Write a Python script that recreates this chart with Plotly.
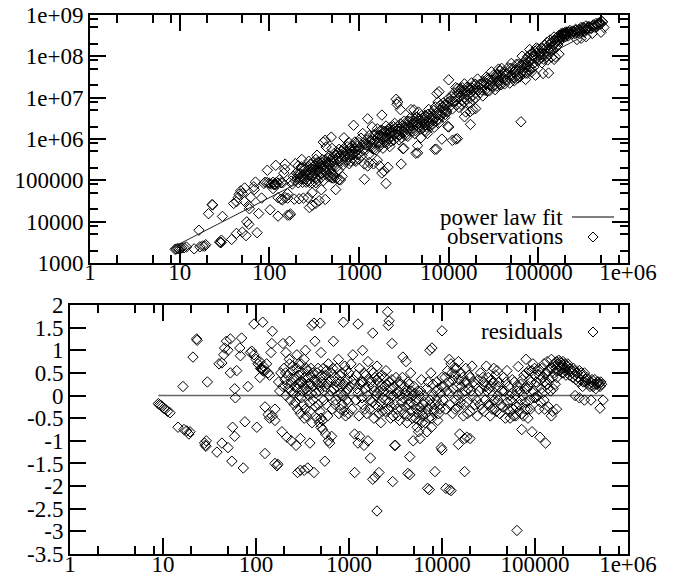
import plotly.graph_objects as go

# ---------------- data ----------------
# x position of each observation (shared by both panels)
x_vals = [
    8.9, 9.2, 9.5, 9.8, 10.2, 10.6, 11.2, 11.9,
    14.5, 16.4, 16.8, 18, 19, 19.5, 21, 23, 23.3, 28, 28.5, 29, 29.2, 30, 38, 40, 43, 43, 45, 46, 48, 50, 50,
    53, 53, 55, 56, 59, 59, 60, 62, 67, 68, 70, 73, 76, 82, 87, 90, 95, 95, 100, 102,
    105, 110, 110, 112, 115, 115, 118, 118, 120, 125, 125, 125, 130, 135, 135, 140, 140, 145, 148, 150,
    150, 160, 160, 160, 168, 172, 175, 180, 185, 190, 195, 195,
    200, 205, 210, 210, 215, 220, 225, 230, 230, 235, 240, 240, 245, 250, 255, 260, 265, 270, 275, 275,
    280, 280, 285, 290, 295, 300, 300, 300, 305, 310, 315, 320, 330, 330, 330, 335, 340, 345, 350, 355,
    360, 365, 370, 380, 380, 385, 390, 400, 400, 405, 410, 420, 420, 425, 430, 440, 450, 455, 460, 470,
    480, 490, 490, 500, 500, 500,
    510, 520, 520, 530, 540, 550, 560, 560, 570, 580, 600, 600, 610, 620, 630, 650, 650, 660, 680, 690,
    700, 720, 740, 750, 770, 780, 800, 820, 840, 850, 870, 880, 900, 920, 940, 960, 980, 1000,
    1050, 1100, 1150, 1150, 1150, 1200, 1250, 1250, 1250, 1300, 1300, 1350, 1400, 1400, 1450, 1450, 1500, 1550, 1600, 1600,
    1650, 1700, 1700, 1750, 1800, 1800, 1800, 1850, 1900, 1900, 1950, 2000, 2000, 2050, 2100, 2100, 2150, 2200, 2250, 2300,
    2400, 2450, 2500, 2600, 2650, 2700, 2700, 2750, 2800, 2900, 2900, 2950, 3000,
    3100, 3150, 3200, 3300, 3400, 3500, 3600, 3700, 3800, 3900, 4000, 4100, 4200, 4300, 4300, 4400, 4500, 4500, 4600, 4700,
    4900, 4900, 5000, 5200, 5300, 5400, 5500, 5600, 5700, 5800, 5800, 6000, 6100, 6200, 6400, 6500, 6600, 6800, 6900, 7000,
    7000, 7100, 7300, 7400, 7400, 7600, 7700, 7800, 7800, 8000, 8200, 8400, 8400, 8600, 8800, 9000, 9200, 9400, 9600, 9800,
    10000, 10000, 10000,
    10500, 11000, 11000, 11500, 12000, 12000, 12000, 12500, 12500, 13000, 13000, 13500, 14000, 14000, 14500, 15000, 15000, 15000, 15500, 16000,
    16500, 17000, 17500, 17500, 17500, 18000, 18500, 18500, 19000, 20000, 20000, 20000, 21000, 21500, 22500, 23000, 24000, 25000, 26000, 27000,
    28000, 29000,
    30000, 31000, 32000, 33000, 34000, 35000, 36000, 37000, 38000, 39000, 40000, 41000, 42000, 44000, 45000, 46000, 48000, 50000, 50000, 52000,
    54000, 54000, 56000, 58000, 60000, 62000, 64000, 64000, 66000, 68000, 70000, 72000, 72000, 74000, 76000, 78000, 80000, 82000, 84000, 86000,
    88000, 90000, 93000, 95000, 98000,
    100000, 102000, 105000, 108000, 110000, 113000, 115000, 115000, 118000, 120000, 125000, 125000, 128000, 130000, 132000, 135000, 138000, 140000, 145000, 150000,
    150000, 155000, 155000, 160000, 165000, 170000, 170000, 175000, 180000, 185000, 190000, 195000, 200000, 205000, 210000, 215000, 220000, 230000, 240000, 250000,
    260000, 270000, 270000, 280000, 290000, 300000, 300000, 310000, 320000, 330000, 340000, 340000, 350000, 360000, 380000, 400000, 400000, 420000, 440000, 460000,
    480000, 500000, 500000, 520000, 540000,
]

# observed values (upper panel)
obs_vals = [
    2140, 2180, 2210, 2220, 2260, 2310, 2340, 2430,
    2200, 6210, 2460, 2580, 2560, 2770, 15600, 25900, 25400, 3220, 3130, 3130, 3560, 13400, 3720, 27600, 5200, 30500, 38500, 45800, 55700, 5570, 47800,
    30900, 65500, 4590, 9910, 8610, 24600, 20500, 38700, 69700, 59800, 91000, 5410, 15700, 37300, 84300, 90200, 175000, 88500, 84700, 19400,
    80900, 89700, 63200, 78900, 81300, 79600, 231000, 79400, 89300, 84700, 38000, 13600, 103000, 87700, 35000, 86900, 33700, 149000, 186000, 247000,
    38200, 37100, 47600, 14400, 14400, 15300, 95900, 80900, 125000, 35100, 253000, 97900,
    1.51e5, 1.20e5, 2.25e5, 8.71e4, 3.57e4, 1.44e5, 1.09e5, 3.21e5, 1.95e5, 8.95e4, 3.72e4, 1.36e5, 1.79e5, 1.11e5, 1.61e5, 1.35e5, 9.73e4, 3.84e4, 2.90e5, 2.15e5,
    2.19e4, 8.89e4, 1.57e5, 1.95e5, 1.27e5, 5.02e4, 2.49e4, 8.69e4, 2.66e5, 1.82e5, 1.51e5, 1.14e5, 3.21e5, 8.75e4, 2.77e4, 2.19e5, 4.05e5, 1.76e5, 9.84e4, 2.72e5,
    3.21e4, 2.07e5, 1.64e5, 5.92e4, 1.19e5, 2.69e5, 3.17e5, 8.41e5, 9.79e4, 2.21e5, 1.66e5, 9.35e5, 3.45e4, 2.72e5, 6.43e5, 2.09e5, 1.24e5, 3.40e5, 2.69e5, 1.75e5,
    1.20e5, 1.11e6, 3.34e5, 5.92e5, 1.14e5, 1.39e5,
    3.16e5, 1.13e5, 1.38e5, 4.46e5, 2.75e5, 5.98e4, 1.11e5, 4.07e5, 2.17e5, 3.48e5, 1.03e5, 5.65e5, 2.86e5, 1.02e5, 4.21e5, 1.25e5, 5.06e5, 2.32e5, 1.07e6, 3.81e5,
    4.98e5, 3.12e5, 6.47e5, 4.41e5, 8.24e5, 2.52e5, 5.22e5, 4.19e5, 6.73e5, 3.39e5, 2.15e6, 5.53e5, 8.45e5, 2.89e5, 5.12e5, 6.73e5, 4.18e5, 8.18e5,
    1.05e6, 1.36e6, 2.48e5, 1.06e5, 7.46e5, 9.53e5, 3.09e6, 2.23e5, 6.70e5, 2.70e5, 1.21e6, 9.35e5, 1.96e6, 5.92e5, 2.50e5, 1.24e6, 9.06e5, 5.42e5, 3.08e5, 1.77e6,
    1.23e6, 2.25e5, 8.11e5, 1.61e6, 3.79e6, 1.50e5, 1.17e6, 5.98e5, 1.68e5, 1.52e6, 1.04e6, 8.41e4, 2.06e6, 8.61e5, 2.07e5, 1.53e6, 1.29e6, 6.55e5, 1.92e6, 1.20e6,
    1.61e6, 9.51e5, 2.39e6, 9.16e6, 6.93e6, 7.82e6, 1.29e6, 1.78e6, 9.48e5, 5.13e6, 2.31e6, 2.48e5, 1.69e6,
    5.83e5, 5.94e5, 2.71e6, 1.39e6, 2.14e6, 1.16e6, 2.66e6, 1.84e6, 5.15e6, 1.52e6, 2.45e6, 5.07e6, 1.35e6, 4.52e5, 3.40e6, 2.12e6, 6.89e5, 4.61e5, 4.49e6, 1.96e6,
    1.07e6, 2.92e6, 3.65e6, 1.89e6, 2.36e6, 1.61e6, 3.66e6, 1.52e6, 3.46e6, 1.36e6, 2.74e6, 5.19e6, 2.04e6, 2.42e6, 3.94e6, 3.44e6, 2.23e6, 4.90e6, 1.92e6, 5.60e5,
    3.22e6, 5.96e6, 5.69e5, 1.26e7, 4.19e6, 7.85e6, 2.40e6, 1.40e7, 2.98e6, 6.49e6, 3.66e6, 9.93e5, 4.36e6, 6.03e6, 7.57e6, 3.32e6, 3.95e6, 4.94e6, 6.50e6, 2.00e6,
    2.70e7, 1.95e6, 9.66e6,
    8.34e6, 9.27e5, 5.33e6, 1.31e7, 9.91e5, 1.76e7, 8.34e6, 1.02e6, 1.67e7, 5.81e6, 1.23e7, 1.65e7, 8.53e6, 1.48e7, 1.20e7, 3.45e6, 2.15e7, 7.91e6, 4.51e6, 1.80e7,
    1.19e7, 7.45e6, 2.25e6, 4.68e6, 1.63e7, 2.27e7, 5.13e6, 1.11e7, 1.54e7, 5.43e6, 2.09e7, 9.89e6, 2.83e7, 1.52e7, 1.31e7, 2.11e7, 1.10e7, 1.99e7, 3.10e7, 1.45e7,
    2.75e7, 1.92e7,
    4.22e7, 1.87e7, 2.75e7, 1.56e7, 3.59e7, 2.62e7, 4.92e7, 2.07e7, 3.51e7, 5.12e7, 2.75e7, 4.21e7, 2.15e7, 3.72e7, 2.69e7, 5.30e7, 2.25e7, 6.75e7, 3.35e7, 4.97e7,
    2.99e7, 2.57e7, 4.65e7, 3.40e7, 6.43e7, 3.16e7, 2.61e6, 5.66e7, 1.01e8, 4.50e7, 7.28e7, 2.76e7, 3.92e7, 6.03e7, 9.73e7, 4.74e7, 1.46e8, 7.85e7, 4.21e7, 1.23e8,
    6.62e7, 1.01e8, 3.49e7, 1.60e8, 7.83e7,
    1.32e8, 8.20e7, 1.09e8, 1.59e8, 6.95e7, 3.85e7, 1.40e8, 8.49e7, 1.85e8, 1.09e8, 2.18e8, 9.79e7, 1.50e8, 3.95e7, 1.90e8, 2.49e8, 1.40e8, 9.55e7, 2.33e8, 2.94e8,
    8.45e7, 2.05e8, 9.68e7, 2.86e8, 1.89e8, 3.22e8, 1.13e8, 2.73e8, 3.54e8, 3.21e8, 3.55e8, 2.92e8, 3.87e8, 3.43e8, 3.88e8, 3.10e8, 3.88e8, 3.71e8, 4.08e8, 3.86e8,
    4.47e8, 4.00e8, 2.55e8, 4.38e8, 4.12e8, 4.98e8, 2.73e8, 4.23e8, 4.83e8, 4.31e8, 5.43e8, 2.99e8, 4.84e8, 5.25e8, 4.81e8, 5.33e8, 3.58e8, 5.11e8, 6.24e8, 5.94e8,
    6.53e8, 3.83e8, 6.19e8, 6.81e8, 5.00e8,
]

# residuals (lower panel)
res_vals = [
    -0.18, -0.2, -0.22, -0.25, -0.28, -0.3, -0.35, -0.38,
    -0.7, 0.2, -0.75, -0.78, -0.85, -0.8, 0.85, 1.25, 1.22, -1.05, -1.1, -1.12, -1.0, 0.3, -1.25, 0.7, -1.05, 0.72, 0.9, 1.05, 1.2, -1.15, 1.0,
    0.5, 1.25, -1.45, -0.7, -0.9, 0.15, -0.05, 0.55, 1.05, 0.88, 1.27, -1.6, -0.58, 0.2, 0.95, 0.98, 1.58, 0.9, 0.8, -0.7,
    0.7, 0.75, 0.4, 0.6, 0.6, 0.58, 1.62, 0.55, 0.65, 0.55, -0.25, -1.28, 0.7, 0.5, -0.42, 0.45, -0.5, 0.95, 1.15, 1.42,
    -0.45, -0.55, -0.3, -1.5, -1.55, -1.52, 0.3, 0.1, 0.5, -0.8, 1.15, 0.2,
    0.6, 0.35, 0.95, 0.0, -0.92, 0.45, 0.15, 1.2, 0.7, -0.1, -1.0, 0.3, 0.55, 0.05, 0.4, 0.2, -0.15, -1.1, 0.9, 0.6,
    -1.7, -0.3, 0.25, 0.45, 0.0, -0.95, -1.65, -0.4, 0.7, 0.3, 0.1, -0.2, 0.8, -0.5, -1.65, 0.4, 1.0, 0.15, -0.45, 0.55,
    -1.6, 0.25, 0.0, -1.05, -0.35, 0.45, 0.6, 1.55, -0.6, 0.2, -0.1, 1.6, -1.7, 0.35, 1.2, 0.05, -0.5, 0.5, 0.25, -0.2,
    -0.6, 1.6, 0.4, 0.95, -0.7, -0.5,
    0.3, -0.75, -0.55, 0.6, 0.1, -1.45, -0.85, 0.45, -0.2, 0.25, -1.0, 0.7, 0.0, -1.05, 0.35, -0.9, 0.5, -0.3, 1.2, 0.15,
    0.4, -0.1, 0.6, 0.2, 0.8, -0.4, 0.3, 0.05, 0.5, -0.2, 1.62, 0.25, 0.65, -0.45, 0.1, 0.35, -0.15, 0.5,
    0.7, 0.9, -0.85, -1.7, 0.25, 0.45, 1.58, -1.05, 0.05, -0.9, 0.6, 0.3, 1.0, -0.2, -1.1, 0.5, 0.15, -0.4, -1.0, 0.75,
    0.35, -1.38, -0.1, 0.55, 1.38, -1.85, 0.2, -0.5, -1.8, 0.4, 0.0, -2.55, 0.65, -0.25, -1.7, 0.3, 0.1, -0.6, 0.45, -0.05,
    0.2, -0.35, 0.55, 1.85, 1.55, 1.65, -0.15, 0.15, -0.5, 1.15, 0.35, -1.9, 0.0,
    -1.1, -1.1, 0.4, -0.3, 0.1, -0.55, 0.25, -0.15, 0.85, -0.4, 0.05, 0.75, -0.6, -1.72, 0.3, -0.2, -1.35, -1.75, 0.5, -0.35,
    -1.0, 0.0, 0.2, -0.5, -0.3, -0.7, 0.1, -0.8, 0.0, -0.95, -0.25, 0.35, -0.6, -0.45, 0.0, -0.15, -0.6, 0.15, -0.8, -2.05,
    -0.3, 0.3, -2.08, 1.0, -0.1, 0.5, -0.7, 1.05, -0.5, 0.25, -0.35, -1.68, -0.2, 0.1, 0.3, -0.55, -0.4, -0.2, 0.05, -1.15,
    1.43, -1.2, 0.4,
    0.2, -2.05, -0.3, 0.55, -2.08, 0.8, 0.05, -2.1, 0.7, -0.4, 0.35, 0.6, -0.1, 0.45, 0.2, -1.08, 0.75, -0.25, -0.85, 0.5,
    0.05, -0.45, -1.68, -0.95, 0.3, 0.6, -0.92, -0.15, 0.15, -0.95, 0.4, -0.35, 0.65, 0.0, -0.2, 0.25, -0.45, 0.1, 0.5, -0.3,
    0.3, -0.1,
    0.65, -0.2, 0.15, -0.45, 0.35, 0.0, 0.6, -0.3, 0.2, 0.55, -0.1, 0.3, -0.4, 0.1, -0.25, 0.4, -0.5, 0.55, -0.15, 0.2,
    -0.35, -0.5, 0.05, -0.3, 0.3, -0.45, -2.98, 0.1, 0.64, -0.2, 0.25, -0.75, -0.4, 0.0, 0.45, -0.3, 0.8, 0.15, -0.5, 0.55,
    -0.1, 0.3, -0.8, 0.7, -0.05,
    0.45, -0.05, 0.2, 0.55, -0.3, -0.92, 0.35, -0.15, 0.6, 0.05, 0.7, -0.1, 0.3, -1.05, 0.5, 0.75, 0.15, -0.25, 0.6, 0.8,
    -0.45, 0.4, -0.35, 0.7, 0.25, 0.75, -0.3, 0.55, 0.78, 0.65, 0.72, 0.5, 0.75, 0.6, 0.7, 0.45, 0.65, 0.55, 0.6, 0.5,
    0.6, 0.45, 0.0, 0.5, 0.4, 0.55, -0.05, 0.35, 0.45, 0.3, 0.5, -0.1, 0.35, 0.4, 0.25, 0.3, -0.1, 0.2, 0.35, 0.25,
    0.3, -0.28, 0.2, 0.25, -0.1,
]

# the dense core of the band (same observations, read separately)
x_band = [
    208, 218, 228, 238, 248, 258, 268, 278, 288, 298, 308, 318, 328, 338, 348, 358, 368, 378, 388, 398,
    415, 435, 445, 465, 475, 485, 495, 515, 535, 555, 575, 590, 605, 640, 670, 710, 730, 760, 790, 810,
    830, 860, 890, 910, 930, 950, 970, 990,
    1020, 1080, 1120, 1180, 1220, 1280, 1320, 1380, 1420, 1480, 1520, 1580, 1620, 1680, 1720, 1780, 1820, 1880, 1920, 1980,
    2020, 2080, 2120, 2180, 2220, 2280, 2350, 2420, 2480, 2550, 2620, 2680, 2780, 2850, 2920, 2980, 3050, 3120, 3250, 3350,
    3450, 3550, 3650, 3750, 3850, 3950, 4050, 4150, 4250, 4350, 4450, 4550, 4650, 4800, 4950, 5100, 5250, 5450, 5650, 5900,
    6050, 6300, 6700, 7200, 7500, 7900, 8300, 8700, 9100, 9500, 9900,
    10200, 10800, 11200, 11800, 12200, 12800, 13200, 13800, 14200, 14800, 15200, 15800, 16200, 16800, 17200, 17800, 18200, 18800, 19500, 20500,
    22000, 23500, 24500, 25500, 26500, 27500, 28500, 29500,
    30500, 31500, 32500, 33500, 34500, 35500, 36500, 37500, 38500, 39500, 40500, 43000, 47000, 49000, 51000, 53000, 55000, 57000, 59000, 61000,
    63000, 65000, 67000, 69000, 71000, 73000, 75000, 77000, 79000, 81000, 83000, 85000, 87000, 89000, 92000, 96000, 99000,
    103000, 107000, 112000, 117000, 122000, 127000, 133000, 137000, 142000, 147000, 152000, 157000, 162000, 167000, 172000, 177000, 182000, 187000, 192000, 197000,
    203000, 208000, 212000, 225000, 235000, 245000, 255000, 265000, 275000, 285000, 295000, 315000, 325000, 345000, 370000, 390000, 410000, 430000, 450000, 470000,
    490000, 510000,
]
obs_band = [
    1.42e5, 1.17e5, 2.12e5, 1.11e5, 2.00e5, 8.97e4, 1.62e5, 1.38e5, 2.49e5, 1.74e5, 1.27e5, 2.28e5, 1.75e5, 1.10e5, 2.79e5, 1.75e5, 2.43e5, 1.44e5, 2.22e5, 1.87e5,
    3.07e5, 1.52e5, 2.72e5, 3.85e5, 2.39e5, 1.56e5, 2.77e5, 3.72e5, 2.24e5, 3.15e5, 4.65e5, 1.76e5, 3.83e5, 3.33e5, 5.79e5, 2.77e5, 4.71e5, 3.66e5, 5.98e5, 2.90e5,
    4.93e5, 4.19e5, 3.07e5, 6.03e5, 7.93e5, 4.25e5, 5.57e5, 3.29e5,
    6.21e5, 4.01e5, 8.00e5, 5.41e5, 7.19e5, 4.17e5, 8.71e5, 6.76e5, 9.89e5, 5.70e5, 1.24e6, 8.28e5, 1.04e6, 6.56e5, 1.23e6, 8.13e5, 1.60e6, 1.11e6, 8.41e5, 1.51e6,
    1.14e6, 7.53e5, 1.71e6, 1.02e6, 1.48e6, 8.77e5, 1.42e6, 1.99e6, 1.24e6, 1.82e6, 1.08e6, 2.01e6, 1.55e6, 1.24e6, 1.90e6, 1.07e6, 2.10e6, 1.45e6, 1.95e6, 1.22e6,
    2.67e6, 2.04e6, 1.56e6, 3.24e6, 2.12e6, 2.81e6, 1.84e6, 2.68e6, 1.59e6, 2.55e6, 3.37e6, 2.32e6, 3.04e6, 1.73e6, 2.42e6, 3.21e6, 2.86e6, 2.20e6, 1.97e6, 3.97e6,
    2.61e6, 3.16e6, 2.77e6, 2.72e6, 3.85e6, 4.98e6, 3.90e6, 5.02e6, 6.76e6, 4.53e6, 7.83e6,
    6.00e6, 1.05e7, 8.11e6, 1.05e7, 6.61e6, 1.40e7, 1.03e7, 6.87e6, 1.74e7, 1.00e7, 1.47e7, 9.29e6, 1.36e7, 1.72e7, 9.70e6, 1.36e7, 1.70e7, 8.77e6, 2.13e7, 1.59e7,
    2.10e7, 1.52e7, 2.49e7, 1.51e7, 2.23e7, 2.98e7, 1.47e7, 2.64e7,
    2.48e7, 3.47e7, 1.97e7, 3.04e7, 1.91e7, 3.58e7, 2.48e7, 4.43e7, 2.05e7, 3.00e7, 3.76e7, 2.69e7, 4.01e7, 5.13e7, 2.95e7, 4.15e7, 3.92e7, 6.40e7, 2.99e7, 4.85e7,
    3.92e7, 6.37e7, 3.80e7, 6.15e7, 5.21e7, 8.41e7, 3.91e7, 7.31e7, 5.58e7, 1.10e8, 5.08e7, 8.59e7, 1.03e8, 5.48e7, 1.33e8, 8.89e7, 1.52e8,
    1.17e8, 9.08e7, 1.50e8, 1.17e8, 1.57e8, 8.17e7, 1.49e8, 2.08e8, 1.77e8, 1.43e8, 2.45e8, 1.62e8, 2.38e8, 2.73e8, 2.31e8, 3.21e8, 2.85e8, 3.59e8, 3.18e8, 3.54e8,
    3.05e8, 3.55e8, 3.38e8, 4.20e8, 3.43e8, 3.97e8, 3.58e8, 4.34e8, 3.70e8, 4.47e8, 3.80e8, 4.99e8, 3.84e8, 4.53e8, 5.14e8, 4.70e8, 5.77e8, 5.51e8, 5.24e8, 6.38e8,
    6.37e8, 7.00e8,
]
res_band = [
    0.5, 0.25, 0.8, 0.1, 0.65, -0.2, 0.35, 0.15, 0.7, 0.3, -0.05, 0.5, 0.2, -0.3, 0.6, 0.1, 0.4, -0.15, 0.25, 0.05,
    0.5, -0.25, 0.3, 0.6, 0.1, -0.35, 0.2, 0.45, -0.1, 0.2, 0.55, -0.45, 0.3, 0.1, 0.6, -0.2, 0.3, 0.0, 0.45, -0.3,
    0.2, 0.0, -0.35, 0.3, 0.55, -0.1, 0.15, -0.4,
    0.2, -0.3, 0.35, -0.1, 0.15, -0.45, 0.25, -0.05, 0.3, -0.3, 0.45, 0.0, 0.2, -0.3, 0.3, -0.15, 0.5, 0.1, -0.2, 0.35,
    0.05, -0.4, 0.4, -0.15, 0.2, -0.35, 0.1, 0.4, -0.1, 0.25, -0.3, 0.3, 0.0, -0.25, 0.15, -0.45, 0.2, -0.2, 0.05, -0.45,
    0.3, 0.0, -0.3, 0.4, -0.05, 0.2, -0.25, 0.1, -0.45, 0.0, 0.25, -0.15, 0.1, -0.5, -0.2, 0.05, -0.1, -0.4, -0.55, 0.1,
    -0.35, -0.2, -0.4, -0.5, -0.2, 0.0, -0.3, -0.1, 0.15, -0.3, 0.2,
    -0.1, 0.4, 0.1, 0.3, -0.2, 0.5, 0.15, -0.3, 0.6, 0.0, 0.35, -0.15, 0.2, 0.4, -0.2, 0.1, 0.3, -0.4, 0.45, 0.1,
    0.3, -0.1, 0.35, -0.2, 0.15, 0.4, -0.35, 0.2,
    0.1, 0.4, -0.2, 0.2, -0.3, 0.3, -0.1, 0.45, -0.35, 0.0, 0.2, -0.2, 0.1, 0.3, -0.3, 0.0, -0.1, 0.35, -0.45, 0.0,
    -0.25, 0.2, -0.35, 0.1, -0.1, 0.35, -0.45, 0.15, -0.15, 0.5, -0.3, 0.2, 0.35, -0.3, 0.55, 0.1, 0.6,
    0.3, 0.0, 0.45, 0.15, 0.4, -0.3, 0.25, 0.55, 0.35, 0.1, 0.6, 0.15, 0.5, 0.6, 0.4, 0.7, 0.55, 0.75, 0.6, 0.68,
    0.5, 0.62, 0.55, 0.7, 0.45, 0.55, 0.4, 0.55, 0.35, 0.5, 0.3, 0.5, 0.2, 0.3, 0.35, 0.2, 0.35, 0.25, 0.15, 0.3,
    0.25, 0.3,
]

assert len(x_vals) == len(obs_vals) == len(res_vals), (len(x_vals), len(obs_vals), len(res_vals))
assert len(x_band) == len(obs_band) == len(res_band), (len(x_band), len(obs_band), len(res_band))

# power-law fit line (end points of the fitted range)
fit_x = [8.9, 540000]
fit_y = [2560, 5.52e8]
zero_x = [8.9, 540000]
zero_y = [0, 0]

x_tick_vals = [1, 10, 100, 1000, 10000, 100000, 1000000]
x_tick_text = ["1", "10", "100", "1000", "10000", "100000", "1e+06"]
x_minor_vals = [2, 5, 8, 20, 50, 80, 200, 500, 800, 2000, 5000, 8000,
                20000, 50000, 80000, 200000, 500000, 800000]
y_tick_vals = [1e3, 1e4, 1e5, 1e6, 1e7, 1e8, 1e9]
y_tick_text = ["1000", "10000", "100000", "1e+06", "1e+07", "1e+08", "1e+09"]
y_minor_vals = [2e3, 5e3, 8e3, 2e4, 5e4, 8e4, 2e5, 5e5, 8e5, 2e6, 5e6, 8e6,
                2e7, 5e7, 8e7, 2e8, 5e8, 8e8]
res_tick_vals = [2, 1.5, 1, 0.5, 0, -0.5, -1, -1.5, -2, -2.5, -3, -3.5]
res_tick_text = ["2", "1.5", "1", "0.5", "0", "-0.5", "-1", "-1.5", "-2", "-2.5", "-3", "-3.5"]

# ---------------- figure ----------------
W, H = 683, 578
FONT = "Liberation Serif"
FS = 23

fig = go.Figure()

marker = dict(symbol="diamond-open", size=8, color="black", line=dict(width=1, color="black"))

fig.add_trace(go.Scatter(x=x_vals + x_band, y=obs_vals + obs_band, mode="markers", marker=marker,
                         xaxis="x", yaxis="y", name="observations"))
fig.add_trace(go.Scatter(x=fit_x, y=fit_y, mode="lines", line=dict(color="#222222", width=1),
                         xaxis="x", yaxis="y", name="power law fit"))
fig.add_trace(go.Scatter(x=zero_x, y=zero_y, mode="lines", line=dict(color="#666666", width=1.5),
                         xaxis="x2", yaxis="y2", name="zero"))
fig.add_trace(go.Scatter(x=x_vals + x_band, y=res_vals + res_band, mode="markers", marker=marker,
                         xaxis="x2", yaxis="y2", name="residuals"))

common = dict(showline=True, linecolor="black", linewidth=2, mirror="allticks",
              ticks="inside", ticklen=16, tickwidth=1.5, tickcolor="black",
              showgrid=False, zeroline=False, automargin=False,
              tickfont=dict(family=FONT, size=FS, color="black"))

minor_x = dict(tickmode="array", tickvals=x_minor_vals, ticks="inside", ticklen=8,
               tickwidth=1.5, tickcolor="black", showgrid=False)
minor_y = dict(tickmode="array", tickvals=y_minor_vals, ticks="inside", ticklen=8,
               tickwidth=1.5, tickcolor="black", showgrid=False)

fig.update_layout(
    template="none",
    width=W, height=H, margin=dict(l=0, r=0, t=0, b=0, pad=0),
    paper_bgcolor="white", plot_bgcolor="white", showlegend=False,
    font=dict(family=FONT, size=FS, color="black"),
    xaxis=dict(common, type="log", range=[0, 6], domain=[90 / W, 628 / W], anchor="y",
               tickmode="array", tickvals=x_tick_vals, ticktext=x_tick_text, minor=minor_x,
               ticklabelstandoff=-13),
    yaxis=dict(common, type="log", range=[3, 9], domain=[1 - 263 / H, 1 - 15 / H], anchor="x",
               tickmode="array", tickvals=y_tick_vals, ticktext=y_tick_text, minor=minor_y),
    xaxis2=dict(common, type="log", range=[0, 6], domain=[70 / W, 628 / W], anchor="y2",
                tickmode="array", tickvals=x_tick_vals, ticktext=x_tick_text, minor=minor_x,
                ticklabelstandoff=-12),
    yaxis2=dict(common, range=[-3.5, 2], domain=[1 - 554 / H, 1 - 305 / H], anchor="x2",
                tickmode="array", tickvals=res_tick_vals, ticktext=res_tick_text),
)

# legend texts (right-aligned, sample to the right, as in the original)
legend_font = dict(family=FONT, size=FS, color="black")
for txt, py in [("power law fit", 217), ("observations", 236), ("residuals", 331)]:
    fig.add_annotation(text=txt, xref="paper", yref="paper", x=565 / W, y=1 - py / H,
                       xanchor="right", yanchor="middle", showarrow=False, font=legend_font)

fig.add_shape(type="line", xref="paper", yref="paper", x0=572 / W, x1=614 / W,
              y0=1 - 217 / H, y1=1 - 217 / H, line=dict(color="black", width=1))


def diamond_path(cx, cy, r=5):
    x0, x1, x2 = (cx - r) / W, cx / W, (cx + r) / W
    y0, y1, y2 = 1 - (cy + r) / H, 1 - cy / H, 1 - (cy - r) / H
    return f"M {x0},{y1} L {x1},{y2} L {x2},{y1} L {x1},{y0} Z"


for cy in (237, 332):
    fig.add_shape(type="path", xref="paper", yref="paper", path=diamond_path(593, cy),
                  line=dict(color="black", width=1))

# remove the default page margin so the figure sits at the window's top-left corner
fig.write_html("out.html", config={"displayModeBar": False},
               post_script="document.body.style.margin='0px'; document.body.style.overflow='hidden';")
